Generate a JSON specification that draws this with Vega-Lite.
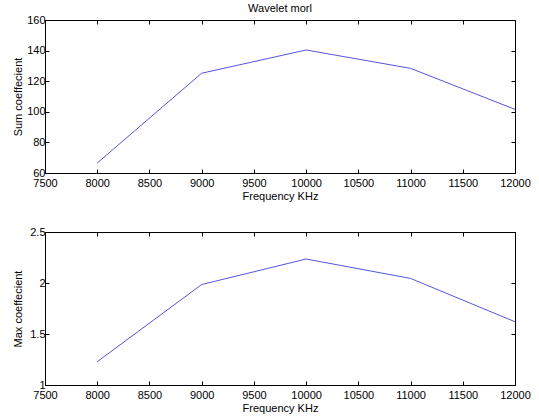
{
  "$schema": "https://vega.github.io/schema/vega-lite/v6.json",
  "padding": {"left": 12, "top": 2, "right": 10, "bottom": 0},
  "background": "white",
  "config": {
    "font": "Liberation Sans",
    "view": {"stroke": "black", "strokeWidth": 1},
    "axis": {
      "grid": false,
      "domainColor": "black",
      "tickColor": "black",
      "labelColor": "black",
      "titleColor": "black",
      "labelFont": "Liberation Sans",
      "titleFont": "Liberation Sans",
      "labelFontSize": 11,
      "titleFontSize": 11,
      "titleFontWeight": "normal",
      "tickSize": -4,
      "labelPadding": 8,
      "titlePadding": 2
    },
    "title": {"font": "Liberation Sans", "fontSize": 11, "fontWeight": "normal", "color": "black"},
    "concat": {"spacing": 23}
  },
  "datasets": {
    "sum": [
      {"freq": 8000, "value": 66.5},
      {"freq": 9000, "value": 125.2},
      {"freq": 10000, "value": 140.4},
      {"freq": 11000, "value": 128.4},
      {"freq": 12000, "value": 101.6}
    ],
    "max": [
      {"freq": 8000, "value": 1.228},
      {"freq": 9000, "value": 1.985},
      {"freq": 10000, "value": 2.235},
      {"freq": 11000, "value": 2.045},
      {"freq": 12000, "value": 1.62}
    ]
  },
  "vconcat": [
    {
      "title": {"text": "Wavelet morl", "offset": 0},
      "width": 470,
      "height": 153,
      "data": {"name": "sum"},
      "layer": [
        {
          "mark": {"type": "line", "color": "#5555dd", "strokeWidth": 1},
          "encoding": {
            "x": {"field": "freq", "type": "quantitative", "scale": {"domain": [7500, 12000], "nice": false, "zero": false},
                  "axis": {"title": "Frequency KHz", "values": [7500, 8000, 8500, 9000, 9500, 10000, 10500, 11000, 11500, 12000], "format": "d", "labelFlush": false}},
            "y": {"field": "value", "type": "quantitative", "scale": {"domain": [60, 160], "nice": false, "zero": false},
                  "axis": {"title": "Sum coeffecient", "values": [60, 80, 100, 120, 140, 160], "format": "d", "labelPadding": 4, "titlePadding": 3, "labelFlush": false}}
          }
        },
        {
          "mark": {"type": "line", "opacity": 0},
          "encoding": {
            "x": {"field": "freq", "type": "quantitative", "axis": {"orient": "top", "labels": false, "domain": false, "title": null, "values": [7500, 8000, 8500, 9000, 9500, 10000, 10500, 11000, 11500, 12000]}},
            "y": {"field": "value", "type": "quantitative", "axis": {"orient": "right", "labels": false, "domain": false, "title": null, "values": [60, 80, 100, 120, 140, 160]}}
          }
        }
      ],
      "resolve": {"axis": {"x": "independent", "y": "independent"}}
    },
    {
      "width": 470,
      "height": 153,
      "data": {"name": "max"},
      "layer": [
        {
          "mark": {"type": "line", "color": "#5555dd", "strokeWidth": 1},
          "encoding": {
            "x": {"field": "freq", "type": "quantitative", "scale": {"domain": [7500, 12000], "nice": false, "zero": false},
                  "axis": {"title": "Frequency KHz", "values": [7500, 8000, 8500, 9000, 9500, 10000, 10500, 11000, 11500, 12000], "format": "d", "labelFlush": false}},
            "y": {"field": "value", "type": "quantitative", "scale": {"domain": [1, 2.5], "nice": false, "zero": false},
                  "axis": {"title": "Max coeffecient", "values": [1, 1.5, 2, 2.5], "format": ".2~f", "labelPadding": 4, "titlePadding": 6, "labelFlush": false}}
          }
        },
        {
          "mark": {"type": "line", "opacity": 0},
          "encoding": {
            "x": {"field": "freq", "type": "quantitative", "axis": {"orient": "top", "labels": false, "domain": false, "title": null, "values": [7500, 8000, 8500, 9000, 9500, 10000, 10500, 11000, 11500, 12000]}},
            "y": {"field": "value", "type": "quantitative", "axis": {"orient": "right", "labels": false, "domain": false, "title": null, "values": [1, 1.5, 2, 2.5]}}
          }
        }
      ],
      "resolve": {"axis": {"x": "independent", "y": "independent"}}
    }
  ]
}
